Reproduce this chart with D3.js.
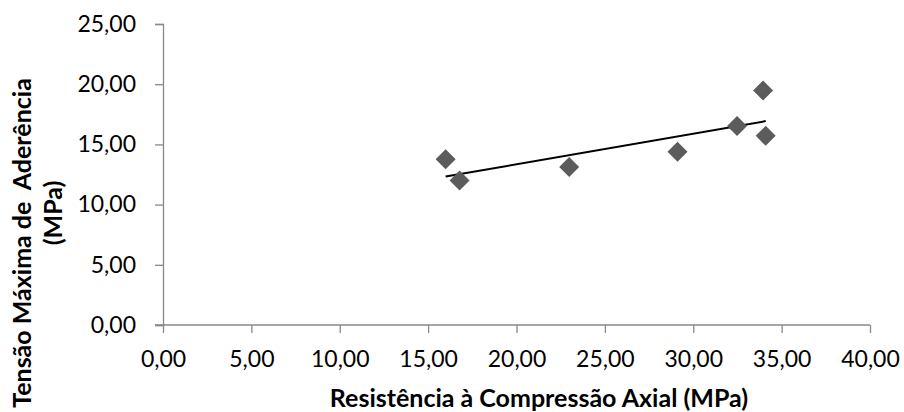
<!DOCTYPE html>
<html>
<head>
<meta charset="utf-8">
<script src="https://cdn.jsdelivr.net/npm/d3@7"></script>
<style>
  body { margin: 0; background: #fff; }
  svg { display: block; }
</style>
</head>
<body>
<svg id="chart"></svg>
<script>
// measured values (compressive strength vs max bond stress)
const resistencia = [15.99, 16.78, 22.98, 29.11, 32.48, 33.95, 34.10];
const tensao = [13.77, 12.00, 13.13, 14.38, 16.52, 19.48, 15.71];
const xTicks = [0, 5, 10, 15, 20, 25, 30, 35, 40];
const yTicks = [0, 5, 10, 15, 20, 25];
const xTitle = 'Resistência à Compressão Axial (MPa)';
const yTitle = ['Tensão Máxima de  Aderência', '(MPa)'];

const width = 904, height = 412;
const margin = {top: 24, right: 34, bottom: 87, left: 163};
const axisColor = '#898989';
const fmt = v => d3.format('.2f')(v).replace('.', ',');

const svg = d3.select('#chart')
  .attr('width', width)
  .attr('height', height);

const x = d3.scaleLinear().domain([0, 40]).range([margin.left, width - margin.right]);
const y = d3.scaleLinear().domain([0, 25]).range([height - margin.bottom, margin.top]);

// y axis
const yAxis = svg.append('g')
  .attr('transform', 'translate(' + x(0) + ',0)')
  .call(d3.axisLeft(y).tickValues(yTicks).tickFormat(fmt).tickSizeOuter(0).tickSize(8).tickPadding(19));

// x axis
const xAxis = svg.append('g')
  .attr('transform', 'translate(0,' + y(0) + ')')
  .call(d3.axisBottom(x).tickValues(xTicks).tickFormat(fmt).tickSizeOuter(0).tickSize(8).tickPadding(18));

[xAxis, yAxis].forEach(g => {
  g.select('.domain').attr('stroke', axisColor).attr('stroke-width', 1.3);
  g.selectAll('.tick line').attr('stroke', axisColor).attr('stroke-width', 1.3);
  g.selectAll('.tick text')
    .attr('fill', '#000')
    .style('font-family', 'Lato')
    .style('font-size', '23px');
});
// x axis line runs under the y tick at 0
xAxis.select('.domain').attr('d', 'M' + (x(0) - 8) + ',0H' + x(40));

// trendline (least squares over the points)
const pts = resistencia.map((r, i) => [r, tensao[i]]);
const mx = d3.mean(resistencia), my = d3.mean(tensao);
const slope = d3.sum(pts, p => (p[0] - mx) * (p[1] - my)) / d3.sum(pts, p => (p[0] - mx) ** 2);
const icpt = my - slope * mx;
const ext = d3.extent(resistencia);

svg.append('path')
  .datum(ext.map(v => [v, icpt + slope * v]))
  .attr('d', d3.line().x(d => x(d[0])).y(d => y(d[1])))
  .attr('fill', 'none')
  .attr('stroke', '#000')
  .attr('stroke-width', 2);

// diamond markers
svg.selectAll('.pt')
  .data(pts)
  .enter()
  .append('path')
  .attr('class', 'pt')
  .attr('d', d3.symbol().type(d3.symbolSquare).size(200))
  .attr('transform', d => 'translate(' + x(d[0]) + ',' + y(d[1]) + ') rotate(45)')
  .attr('fill', '#5c5c5c');

// axis titles
svg.append('text')
  .attr('x', 539)
  .attr('y', 407)
  .attr('text-anchor', 'middle')
  .style('font-family', 'Lato')
  .style('font-weight', 'bold')
  .style('font-size', '25px')
  .text(xTitle);

const yt = [[31, 243], [62, 213]];
yTitle.forEach((t, i) => {
  svg.append('text')
    .attr('transform', 'translate(' + yt[i][0] + ',' + yt[i][1] + ') rotate(-90)')
    .attr('text-anchor', 'middle')
    .style('font-family', 'Lato')
    .style('font-weight', 'bold')
    .style('font-size', '25px')
    .style('white-space', 'pre')
    .text(t);
});
</script>
</body>
</html>
